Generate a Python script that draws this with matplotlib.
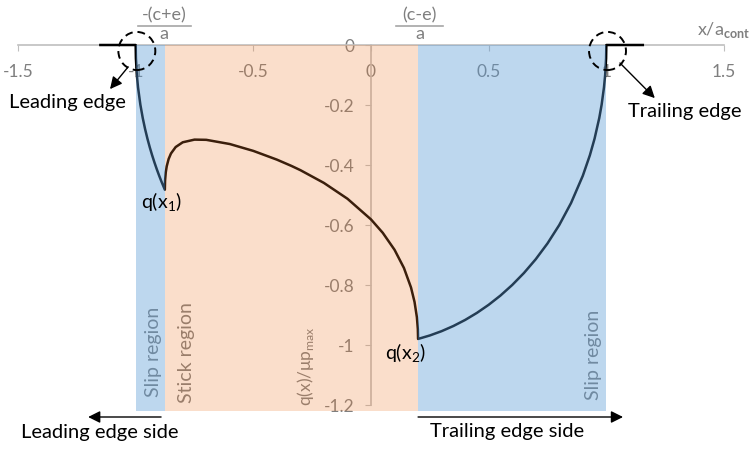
import matplotlib
matplotlib.use("Agg")
import matplotlib.pyplot as plt
from matplotlib.patches import Rectangle, Ellipse
from matplotlib.lines import Line2D

plt.rcParams['font.family'] = ['Lato', 'DejaVu Sans']
plt.rcParams['mathtext.fontset'] = 'custom'
plt.rcParams['mathtext.rm'] = 'Lato'
plt.rcParams['mathtext.bf'] = 'Lato:bold'

# region boundaries (x/a)
x_lead, x1, x2, x_trail = -1.0, -0.876, 0.2, 1.0

# q = 0 outside the contact
x_out_lead = [-1.15, -1.0]
q_out_lead = [0.0, 0.0]
x_out_trail = [1.0, 1.155]
q_out_trail = [0.0, 0.0]

# leading edge slip zone
x_slip_lead = [-1.0, -0.999, -0.995, -0.99, -0.98, -0.97, -0.96, -0.95, -0.94,
               -0.93, -0.92, -0.91, -0.9, -0.89, -0.876]
q_slip_lead = [0.0, -0.0447, -0.0999, -0.1411, -0.199, -0.2431, -0.28, -0.3122,
               -0.3412, -0.3676, -0.3919, -0.4146, -0.4359, -0.456, -0.4823]

# stick zone
x_stick = [-0.876, -0.875, -0.872, -0.868, -0.86, -0.85, -0.83, -0.8, -0.75, -0.7,
           -0.6, -0.5, -0.4, -0.338, -0.3, -0.2, -0.1, 0.0, 0.05, 0.1, 0.14, 0.17,
           0.185, 0.195, 0.199, 0.2]
q_stick = [-0.4823, -0.4513, -0.424, -0.4042, -0.3801, -0.3616, -0.3401, -0.3243,
           -0.3154, -0.3161, -0.3301, -0.353, -0.3821, -0.4031, -0.4172, -0.4598,
           -0.5125, -0.5814, -0.6261, -0.6826, -0.7433, -0.8083, -0.8565, -0.9076,
           -0.9472, -0.9798]

# trailing edge slip zone
x_slip_trail = [0.2, 0.25, 0.3, 0.35, 0.4, 0.45, 0.5, 0.55, 0.6, 0.65, 0.7, 0.75,
                0.8, 0.85, 0.9, 0.93, 0.95, 0.97, 0.98, 0.99, 0.995, 0.999, 1.0]
q_slip_trail = [-0.9798, -0.9682, -0.9539, -0.9367, -0.9165, -0.893, -0.866, -0.8352,
                -0.8, -0.7599, -0.7141, -0.6614, -0.6, -0.5268, -0.4359, -0.3676,
                -0.3122, -0.2431, -0.199, -0.1411, -0.0999, -0.0447, 0.0]

xticks = [-1.5, -1.0, -0.5, 0.0, 0.5, 1.0, 1.5]
xtick_labels = ['-1.5', '-1', '-0.5', '0', '0.5', '1', '1.5']
yticks = [0.0, -0.2, -0.4, -0.6, -0.8, -1.0, -1.2]
ytick_labels = ['0', '-0.2', '-0.4', '-0.6', '-0.8', '-1', '-1.2']

grey = '#7f7f7f'
W, H = 754, 449
fig = plt.figure(figsize=(W / 100, H / 100), dpi=100)
ax = fig.add_axes([18 / W, (H - 411) / H, 706 / W, 372 / H])
ax.set_xlim(-1.5, 1.5)
ax.set_ylim(-1.22, 0.02)

# axes crossing at the origin
for s in ['top', 'right']:
    ax.spines[s].set_visible(False)
ax.spines['bottom'].set_position(('data', 0))
ax.spines['left'].set_position(('data', 0))
ax.spines['bottom'].set_bounds(-1.5, 1.5)
ax.spines['left'].set_bounds(-1.2, 0)
for s in ['bottom', 'left']:
    ax.spines[s].set_color('#bfbfbf')
    ax.spines[s].set_linewidth(1.2)
ax.set_xticks(xticks, xtick_labels)
ax.set_yticks(yticks, ytick_labels)
ax.tick_params(axis='x', direction='out', length=4, color='#bfbfbf',
               labelcolor=grey, labelsize=12.5, pad=10)
ax.tick_params(axis='y', direction='out', length=4, color='#bfbfbf',
               labelcolor=grey, labelsize=12.5, pad=8)

# traction curve
xs = x_out_lead + x_slip_lead[1:] + x_stick[1:] + x_slip_trail[1:] + x_out_trail[1:]
qs = q_out_lead + q_slip_lead[1:] + q_stick[1:] + q_slip_trail[1:] + q_out_trail[1:]
ax.plot(xs, qs, color='black', lw=1.8, solid_joinstyle='round', zorder=2.8,
        clip_on=False)

# region labels, drawn under the tinted bands
ax.text(-0.926, -1.173, 'Slip region', rotation=90, ha='center', va='bottom',
        color=grey, fontsize=14, zorder=2)
ax.text(-0.782, -1.193, 'Stick region', rotation=90, ha='center', va='bottom',
        color=grey, fontsize=14, zorder=2)
ax.text(0.947, -1.183, 'Slip region', rotation=90, ha='center', va='bottom',
        color=grey, fontsize=14, zorder=2)
ax.text(-0.28, -1.205, r'q(x)/μp$_{\mathregular{max}}$', rotation=90,
        ha='center', va='bottom', color=grey, fontsize=12.5, zorder=2)

# slip / stick bands
yb = -1.22
ax.add_patch(Rectangle((x_lead, yb), x1 - x_lead, -yb, color='#5b9bd5',
                       alpha=0.4, lw=0, zorder=3))
ax.add_patch(Rectangle((x1, yb), x2 - x1, -yb, color='#ed7d31',
                       alpha=0.25, lw=0, zorder=3))
ax.add_patch(Rectangle((x2, yb), x_trail - x2, -yb, color='#5b9bd5',
                       alpha=0.4, lw=0, zorder=3))

# edge markers
for cx in [-0.995, 1.005]:
    ax.add_patch(Ellipse((cx, -0.02), 0.157, 0.127, fill=False, ec='black',
                         lw=1.4, ls=(0, (4, 2.5)), zorder=4, clip_on=False))

arrow = dict(arrowstyle='-|>', color='black', lw=1, mutation_scale=18,
             shrinkA=0, shrinkB=0)
ax.annotate('', xy=(-1.109, -0.147), xytext=(-1.032, -0.073),
            arrowprops=arrow, annotation_clip=False, zorder=5)
ax.annotate('', xy=(1.206, -0.177), xytext=(1.058, -0.06),
            arrowprops=arrow, annotation_clip=False, zorder=5)
ax.annotate('', xy=(-1.202, -1.24), xytext=(-0.892, -1.24),
            arrowprops=arrow, annotation_clip=False, zorder=5)
ax.annotate('', xy=(1.071, -1.24), xytext=(0.2, -1.24),
            arrowprops=arrow, annotation_clip=False, zorder=5)

txt = dict(color='black', fontsize=14.5, ha='center', va='center', zorder=5)
ax.text(-1.291, -0.193, 'Leading edge', **txt)
ax.text(1.334, -0.223, 'Trailing edge', **txt)
ax.text(-1.151, -1.293, 'Leading edge side', **txt)
ax.text(0.578, -1.29, 'Trailing edge side', **txt)
ax.text(-0.89, -0.525, r'q(x$_{\mathregular{1}}$)', ha='center', va='center',
        color='black', fontsize=14, zorder=5)
ax.text(0.145, -1.027, r'q(x$_{\mathregular{2}}$)', ha='center', va='center',
        color='black', fontsize=14, zorder=5)

# axis title and boundary fractions
fig.text(697 / W, 1 - 30 / H, r'x/a$_{\mathbf{cont}}$', color=grey, fontsize=13,
         ha='left', va='center')
for xc, num, x0, x1b in [(164, '-(c+e)', 138, 191), (419.5, '(c-e)', 396, 443)]:
    fig.text(xc / W, 1 - 15 / H, num, color=grey, fontsize=13, ha='center',
             va='center')
    fig.text(xc / W, 1 - 34 / H, 'a', color=grey, fontsize=13, ha='center',
             va='center')
    fig.add_artist(Line2D([x0 / W, x1b / W], [1 - 26 / H, 1 - 26 / H],
                          color='#a6a6a6', lw=1.2))

fig.savefig('out.png', dpi=100)
